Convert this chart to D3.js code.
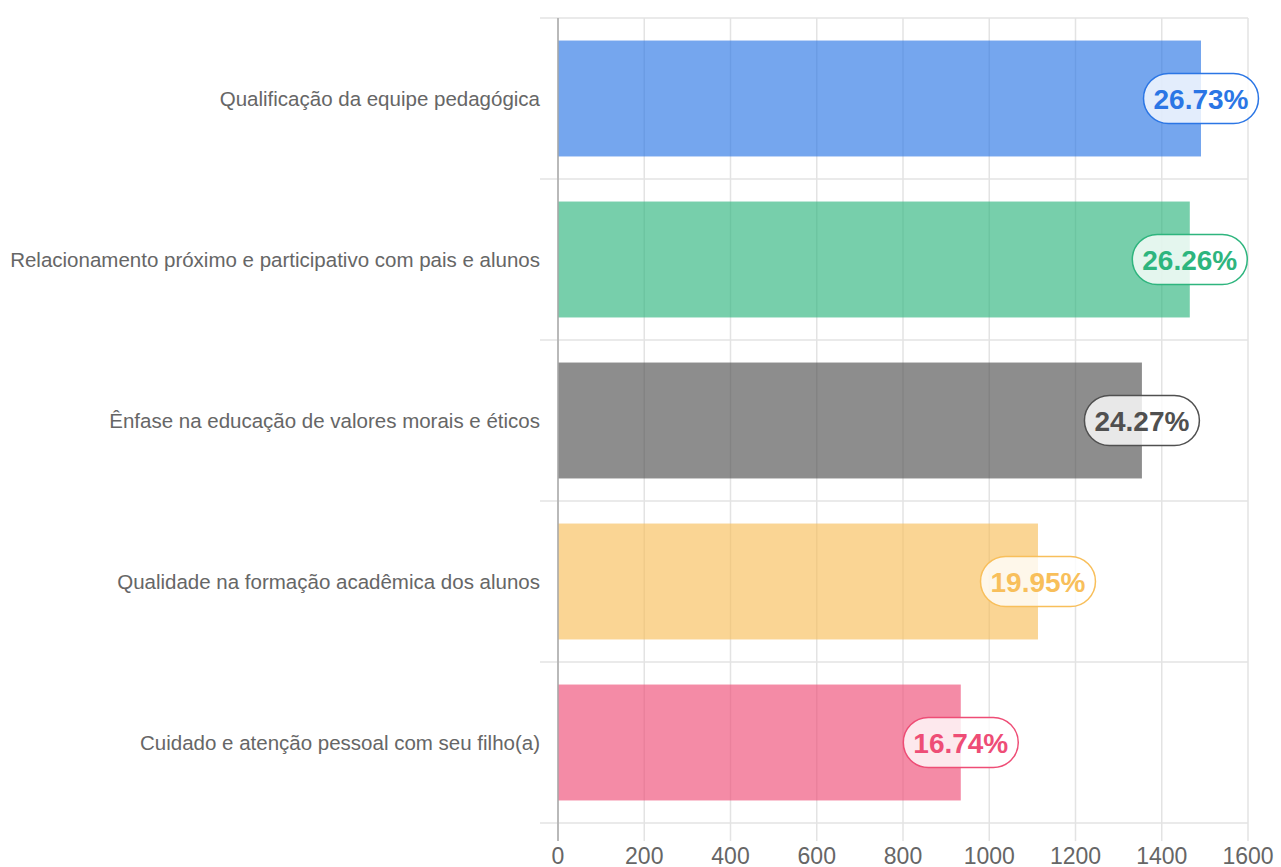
<!DOCTYPE html>
<html>
<head>
<meta charset="utf-8">
<script src="https://cdn.jsdelivr.net/npm/d3@7"></script>
<style>
  html, body { margin: 0; padding: 0; background: #fff; }
  svg { display: block; font-family: "Liberation Sans", Arial, Helvetica, sans-serif; }
</style>
</head>
<body>
<svg id="chart" width="1281" height="867"></svg>
<script>
const categories = [
  "Qualificação da equipe pedagógica",
  "Relacionamento próximo e participativo com pais e alunos",
  "Ênfase na educação de valores morais e éticos",
  "Qualidade na formação acadêmica dos alunos",
  "Cuidado e atenção pessoal com seu filho(a)"
];
const values = [1491, 1465, 1354, 1113, 934];
const percentLabels = ["26.73%", "26.26%", "24.27%", "19.95%", "16.74%"];
const xTicks = [0, 200, 400, 600, 800, 1000, 1200, 1400, 1600];
const baseColors = ["#2b76e5", "#2eb57e", "#505050", "#f8bf5b", "#ee4d76"];

(function () {
const svg = d3.select("#chart");
const pLeft = 558, pRight = 1248, pTop = 18, pBottom = 823;

const x = d3.scaleLinear().domain([0, 1600]).range([pLeft, pRight]);
const y = d3.scaleBand().domain(categories).range([pTop, pBottom])
  .paddingInner(0.28).paddingOuter(0.14);
const step = y.step();

const grid = svg.append("g");
grid.selectAll("line.v").data(xTicks).join("line")
  .attr("x1", d => x(d)).attr("x2", d => x(d))
  .attr("y1", pTop).attr("y2", pBottom + 18)
  .attr("stroke", "#e3e3e3").attr("stroke-width", 1.5);
const bounds = d3.range(categories.length + 1).map(i => pTop + i * step);
grid.selectAll("line.h").data(bounds).join("line")
  .attr("x1", pLeft - 18).attr("x2", pRight)
  .attr("y1", d => d).attr("y2", d => d)
  .attr("stroke", "#e3e3e3").attr("stroke-width", 1.5);

svg.append("g").selectAll("rect").data(values).join("rect")
  .attr("x", x(0))
  .attr("y", (d, i) => y(categories[i]))
  .attr("width", d => x(d) - x(0))
  .attr("height", y.bandwidth())
  .attr("fill", (d, i) => baseColors[i])
  .attr("fill-opacity", 0.65);

svg.append("line")
  .attr("x1", pLeft).attr("x2", pLeft)
  .attr("y1", pTop).attr("y2", pBottom + 18)
  .attr("stroke", "#a9a9a9").attr("stroke-width", 1.5);

svg.append("g").selectAll("text").data(categories).join("text")
  .attr("x", pLeft - 18)
  .attr("y", d => y(d) + y.bandwidth() / 2)
  .attr("dy", "0.35em")
  .attr("text-anchor", "end")
  .attr("font-size", 20.5)
  .attr("fill", "#666")
  .text(d => d);

svg.append("g").selectAll("text").data(xTicks).join("text")
  .attr("x", d => x(d))
  .attr("y", 864)
  .attr("text-anchor", "middle")
  .attr("font-size", 23)
  .attr("fill", "#666")
  .text(d => d);

const lab = svg.append("g").selectAll("g").data(values).join("g")
  .attr("transform", (d, i) => `translate(${x(d)},${y(categories[i]) + y.bandwidth() / 2})`);
lab.each(function(d, i) {
  const g = d3.select(this);
  const t = g.append("text")
    .attr("text-anchor", "middle")
    .attr("dy", "0.36em")
    .attr("font-size", 28)
    .attr("font-weight", "bold")
    .attr("fill", baseColors[i])
    .text(percentLabels[i]);
  const w = t.node().getComputedTextLength() + 20;
  const h = 50;
  g.insert("rect", "text")
    .attr("x", -w / 2).attr("y", -h / 2)
    .attr("width", w).attr("height", h)
    .attr("rx", h / 2).attr("ry", h / 2)
    .attr("fill", "rgba(255,255,255,0.8)")
    .attr("stroke", baseColors[i])
    .attr("stroke-width", 1.5);
});
})();
</script>
</body>
</html>
